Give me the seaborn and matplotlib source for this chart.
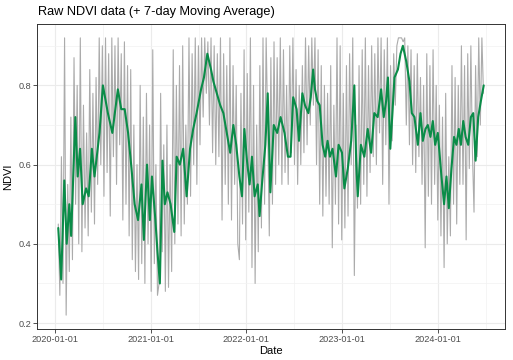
import numpy as np
import pandas as pd
import matplotlib
matplotlib.use("Agg")
import matplotlib.pyplot as plt
import matplotlib.dates as mdates
from matplotlib.ticker import FixedLocator
import seaborn as sns

sns.set_theme(style="white")
plt.rcParams['font.family'] = ['Liberation Sans', 'DejaVu Sans']

# ---------------- data ----------------
raw_start = "2020-01-15"
raw_step_days = 6
raw_ndvi = [
    0.45, 0.27, 0.62, 0.30, 0.92, 0.22,
    0.55, 0.33, 0.72, 0.36, 0.87, 0.50, 0.80,
    0.40, 0.92, 0.38, 0.75, 0.44, 0.68,
    0.42, 0.84, 0.48, 0.78, 0.45, 0.82, 0.55,
    0.92, 0.60, 0.90, 0.52, 0.92, 0.58,
    0.88, 0.47, 0.92, 0.62, 0.90, 0.55,
    0.92, 0.65, 0.88, 0.46, 0.91, 0.50, 0.85,
    0.42, 0.84, 0.36, 0.70, 0.33, 0.60,
    0.31, 0.80, 0.35, 0.72, 0.30, 0.78, 0.40,
    0.70, 0.28, 0.89, 0.35, 0.60, 0.27,
    0.30, 0.78, 0.38, 0.65, 0.28, 0.70,
    0.29, 0.60, 0.33, 0.89, 0.40, 0.80, 0.45,
    0.85, 0.42, 0.90, 0.45, 0.70, 0.50,
    0.92, 0.52, 0.88, 0.60, 0.92, 0.55, 0.90,
    0.65, 0.92, 0.72, 0.92, 0.78, 0.91,
    0.70, 0.92, 0.63, 0.90, 0.60, 0.88,
    0.62, 0.92, 0.46, 0.88, 0.55, 0.85, 0.50,
    0.92, 0.46, 0.85, 0.55, 0.80, 0.40,
    0.36, 0.78, 0.45, 0.89, 0.41, 0.83, 0.48,
    0.92, 0.34, 0.80, 0.30, 0.70, 0.38,
    0.85, 0.44, 0.92, 0.50, 0.92, 0.70,
    0.42, 0.87, 0.50, 0.91, 0.55, 0.87, 0.60,
    0.92, 0.55, 0.89, 0.58, 0.80, 0.55,
    0.90, 0.63, 0.92, 0.60, 0.84, 0.55, 0.80,
    0.60, 0.85, 0.63, 0.92, 0.65, 0.90,
    0.70, 0.92, 0.75, 0.92, 0.60, 0.89,
    0.50, 0.85, 0.47, 0.80, 0.52, 0.78, 0.50,
    0.85, 0.39, 0.75, 0.50, 0.92, 0.45,
    0.90, 0.41, 0.78, 0.44, 0.85, 0.47,
    0.88, 0.60, 0.92, 0.32, 0.70, 0.49, 0.85,
    0.50, 0.89, 0.55, 0.92, 0.52, 0.85,
    0.58, 0.90, 0.62, 0.88, 0.60, 0.92, 0.68,
    0.92, 0.55, 0.89, 0.65, 0.92, 0.50,
    0.85, 0.66, 0.88, 0.75, 0.90, 0.92,
    0.92, 0.92, 0.91, 0.92, 0.70, 0.90, 0.65,
    0.89, 0.60, 0.85, 0.58, 0.88, 0.62,
    0.82, 0.55, 0.80, 0.39, 0.88, 0.52,
    0.85, 0.50, 0.89, 0.55, 0.80, 0.46, 0.75,
    0.42, 0.72, 0.34, 0.78, 0.40, 0.62,
    0.42, 0.85, 0.50, 0.82, 0.45, 0.80, 0.55,
    0.90, 0.55, 0.85, 0.41, 0.88, 0.59,
    0.90, 0.63, 0.48, 0.85, 0.62, 0.92,
    0.70, 0.92, 0.78,
]

ma_dates = [
    "2020-01-15", "2020-01-26", "2020-02-07", "2020-02-16", "2020-02-26", "2020-03-04",
    "2020-03-20", "2020-03-29", "2020-04-07", "2020-04-17", "2020-04-30", "2020-05-10",
    "2020-05-22", "2020-06-01", "2020-06-20", "2020-07-03", "2020-07-22", "2020-08-08",
    "2020-08-29", "2020-09-11", "2020-09-24", "2020-10-07", "2020-10-20", "2020-11-01",
    "2020-11-14", "2020-11-27", "2020-12-06", "2020-12-18", "2020-12-29",
    "2021-01-06", "2021-01-19", "2021-01-27", "2021-02-05", "2021-02-15", "2021-02-24",
    "2021-03-06", "2021-03-18", "2021-04-01", "2021-04-10", "2021-04-22", "2021-05-05",
    "2021-05-18", "2021-05-31", "2021-06-12", "2021-06-25", "2021-07-12", "2021-07-23",
    "2021-08-05", "2021-08-19", "2021-08-28", "2021-09-10", "2021-09-23", "2021-10-05",
    "2021-10-18", "2021-10-31", "2021-11-12", "2021-11-23", "2021-12-05", "2021-12-15",
    "2021-12-24",
    "2022-01-03", "2022-01-13", "2022-01-22", "2022-02-01", "2022-02-13", "2022-02-20",
    "2022-03-01", "2022-03-14", "2022-03-23", "2022-04-02", "2022-04-15", "2022-04-28",
    "2022-05-11", "2022-05-26", "2022-06-08", "2022-06-18", "2022-06-28", "2022-07-11",
    "2022-07-20", "2022-08-02", "2022-08-12", "2022-08-25", "2022-09-03", "2022-09-12",
    "2022-09-19", "2022-09-28", "2022-10-07", "2022-10-18", "2022-10-28", "2022-11-06",
    "2022-11-15", "2022-11-25", "2022-12-08", "2022-12-18", "2022-12-31",
    "2023-01-09", "2023-01-22", "2023-02-04", "2023-02-16", "2023-02-23", "2023-03-01",
    "2023-03-13", "2023-03-26", "2023-04-08", "2023-04-21", "2023-05-03", "2023-05-16",
    "2023-05-29", "2023-06-08", "2023-06-17", "2023-06-24", "2023-07-03", "2023-07-10",
    "2023-07-19", "2023-08-01", "2023-08-11", "2023-08-20", "2023-09-02", "2023-09-14",
    "2023-09-23", "2023-10-03", "2023-10-16", "2023-10-26", "2023-11-04", "2023-11-14",
    "2023-11-23", "2023-12-03", "2023-12-12", "2023-12-21", "2023-12-31",
    "2024-01-14", "2024-01-24", "2024-02-02", "2024-02-11", "2024-02-21", "2024-03-02",
    "2024-03-11", "2024-03-20", "2024-03-28", "2024-04-06", "2024-04-15", "2024-04-25",
    "2024-05-05", "2024-05-14", "2024-05-23", "2024-06-02", "2024-06-12", "2024-06-23",
]
ma_ndvi = [
    0.44, 0.31, 0.56, 0.40, 0.50, 0.42, 0.72, 0.57, 0.64, 0.50, 0.54, 0.52,
    0.64, 0.57, 0.68, 0.80, 0.73, 0.68, 0.79, 0.74, 0.74, 0.68, 0.59, 0.50,
    0.46, 0.55, 0.41, 0.60, 0.46,
    0.57, 0.46, 0.38, 0.30, 0.61, 0.50, 0.53, 0.50, 0.43, 0.62, 0.60, 0.64,
    0.52, 0.64, 0.69, 0.73, 0.79, 0.82, 0.88, 0.84, 0.81, 0.78, 0.75, 0.73,
    0.68, 0.63, 0.70, 0.65, 0.57, 0.52, 0.69,
    0.61, 0.55, 0.62, 0.52, 0.55, 0.47, 0.55, 0.65, 0.78, 0.53, 0.70, 0.68,
    0.72, 0.68, 0.62, 0.62, 0.77, 0.74, 0.66, 0.78, 0.75, 0.73, 0.77, 0.84,
    0.79, 0.76, 0.75, 0.65, 0.62, 0.66, 0.62, 0.64, 0.57, 0.65, 0.63,
    0.54, 0.59, 0.66, 0.80, 0.61, 0.52, 0.65, 0.62, 0.69, 0.63, 0.73, 0.72,
    0.79, 0.72, 0.76, 0.82, 0.64, 0.72, 0.82, 0.84, 0.88, 0.90, 0.86, 0.81,
    0.73, 0.72, 0.65, 0.73, 0.66, 0.69, 0.70, 0.67, 0.71, 0.65, 0.68,
    0.57, 0.50, 0.57, 0.49, 0.59, 0.67, 0.65, 0.69, 0.65, 0.71, 0.67, 0.65,
    0.72, 0.73, 0.61, 0.72, 0.76, 0.80,
]

x_breaks = ["2020-01-01", "2021-01-01", "2022-01-01", "2023-01-01", "2024-01-01"]
y_breaks = [0.2, 0.4, 0.6, 0.8]

title = "Raw NDVI data (+ 7-day Moving Average)"
x_label = "Date"
y_label = "NDVI"

# ---------------- frames ----------------
raw_df = pd.DataFrame({
    "Date": pd.date_range(raw_start, periods=len(raw_ndvi), freq=f"{raw_step_days}D"),
    "NDVI": raw_ndvi,
})
ma_df = pd.DataFrame({"Date": pd.to_datetime(ma_dates), "NDVI": ma_ndvi})

# ---------------- figure ----------------
W, H = 513, 360
fig = plt.figure(figsize=(W / 100, H / 100), dpi=100)
fig.patch.set_facecolor("white")
ax = fig.add_axes([37 / W, 1 - 329 / H, (505 - 37) / W, (329 - 24) / H])
ax.set_facecolor("white")

sns.lineplot(data=raw_df, x="Date", y="NDVI", ax=ax, color="#ababab", lw=0.8, zorder=3)
sns.lineplot(data=ma_df, x="Date", y="NDVI", ax=ax, color="#0a8c48", lw=1.5, zorder=4)

# ggplot-like 5% expansion of data range
all_dates = pd.concat([raw_df["Date"], ma_df["Date"]])
x0, x1 = mdates.date2num(all_dates.min()), mdates.date2num(all_dates.max())
dx = (x1 - x0) * 0.05
ax.set_xlim(x0 - dx, x1 + dx)
all_vals = np.concatenate([raw_df["NDVI"].values, ma_df["NDVI"].values])
y0, y1 = all_vals.min(), all_vals.max()
dy = (y1 - y0) * 0.05
ax.set_ylim(y0 - dy, y1 + dy)

# breaks
xb = mdates.date2num(pd.to_datetime(x_breaks))
ax.xaxis.set_major_locator(FixedLocator(xb))
ax.xaxis.set_major_formatter(mdates.DateFormatter("%Y-%m-%d"))
step = np.diff(xb).mean()
xminor = np.concatenate([[xb[0] - step / 2], (xb[:-1] + xb[1:]) / 2, [xb[-1] + step / 2]])
ax.xaxis.set_minor_locator(FixedLocator(xminor))
ax.yaxis.set_major_locator(FixedLocator(y_breaks))
ax.yaxis.set_major_formatter(matplotlib.ticker.FormatStrFormatter("%.1f"))
yb = np.array(y_breaks)
ymin_ = np.concatenate([[yb[0] - 0.1], yb + 0.1])
ax.yaxis.set_minor_locator(FixedLocator(ymin_))

ax.grid(which="major", color="#ebebeb", lw=0.8, zorder=0)
ax.grid(which="minor", color="#f2f2f2", lw=0.5, zorder=0)
ax.set_axisbelow(True)

ax.tick_params(which="major", length=2.6, width=0.6, color="#333333",
               labelsize=6.6, labelcolor="#4d4d4d", pad=1.5,
               bottom=True, left=True)
ax.tick_params(which="minor", length=0)
for s in ax.spines.values():
    s.set_color("#333333")
    s.set_linewidth(0.7)

ax.set_xlabel(x_label, fontsize=8, color="black", labelpad=2)
ax.set_ylabel(y_label, fontsize=8, color="black", labelpad=4)
fig.text(38 / W, 1 - 12 / H, title, ha="left", va="center", fontsize=9.2, color="black")

fig.savefig("out.png", dpi=100, facecolor="white")
